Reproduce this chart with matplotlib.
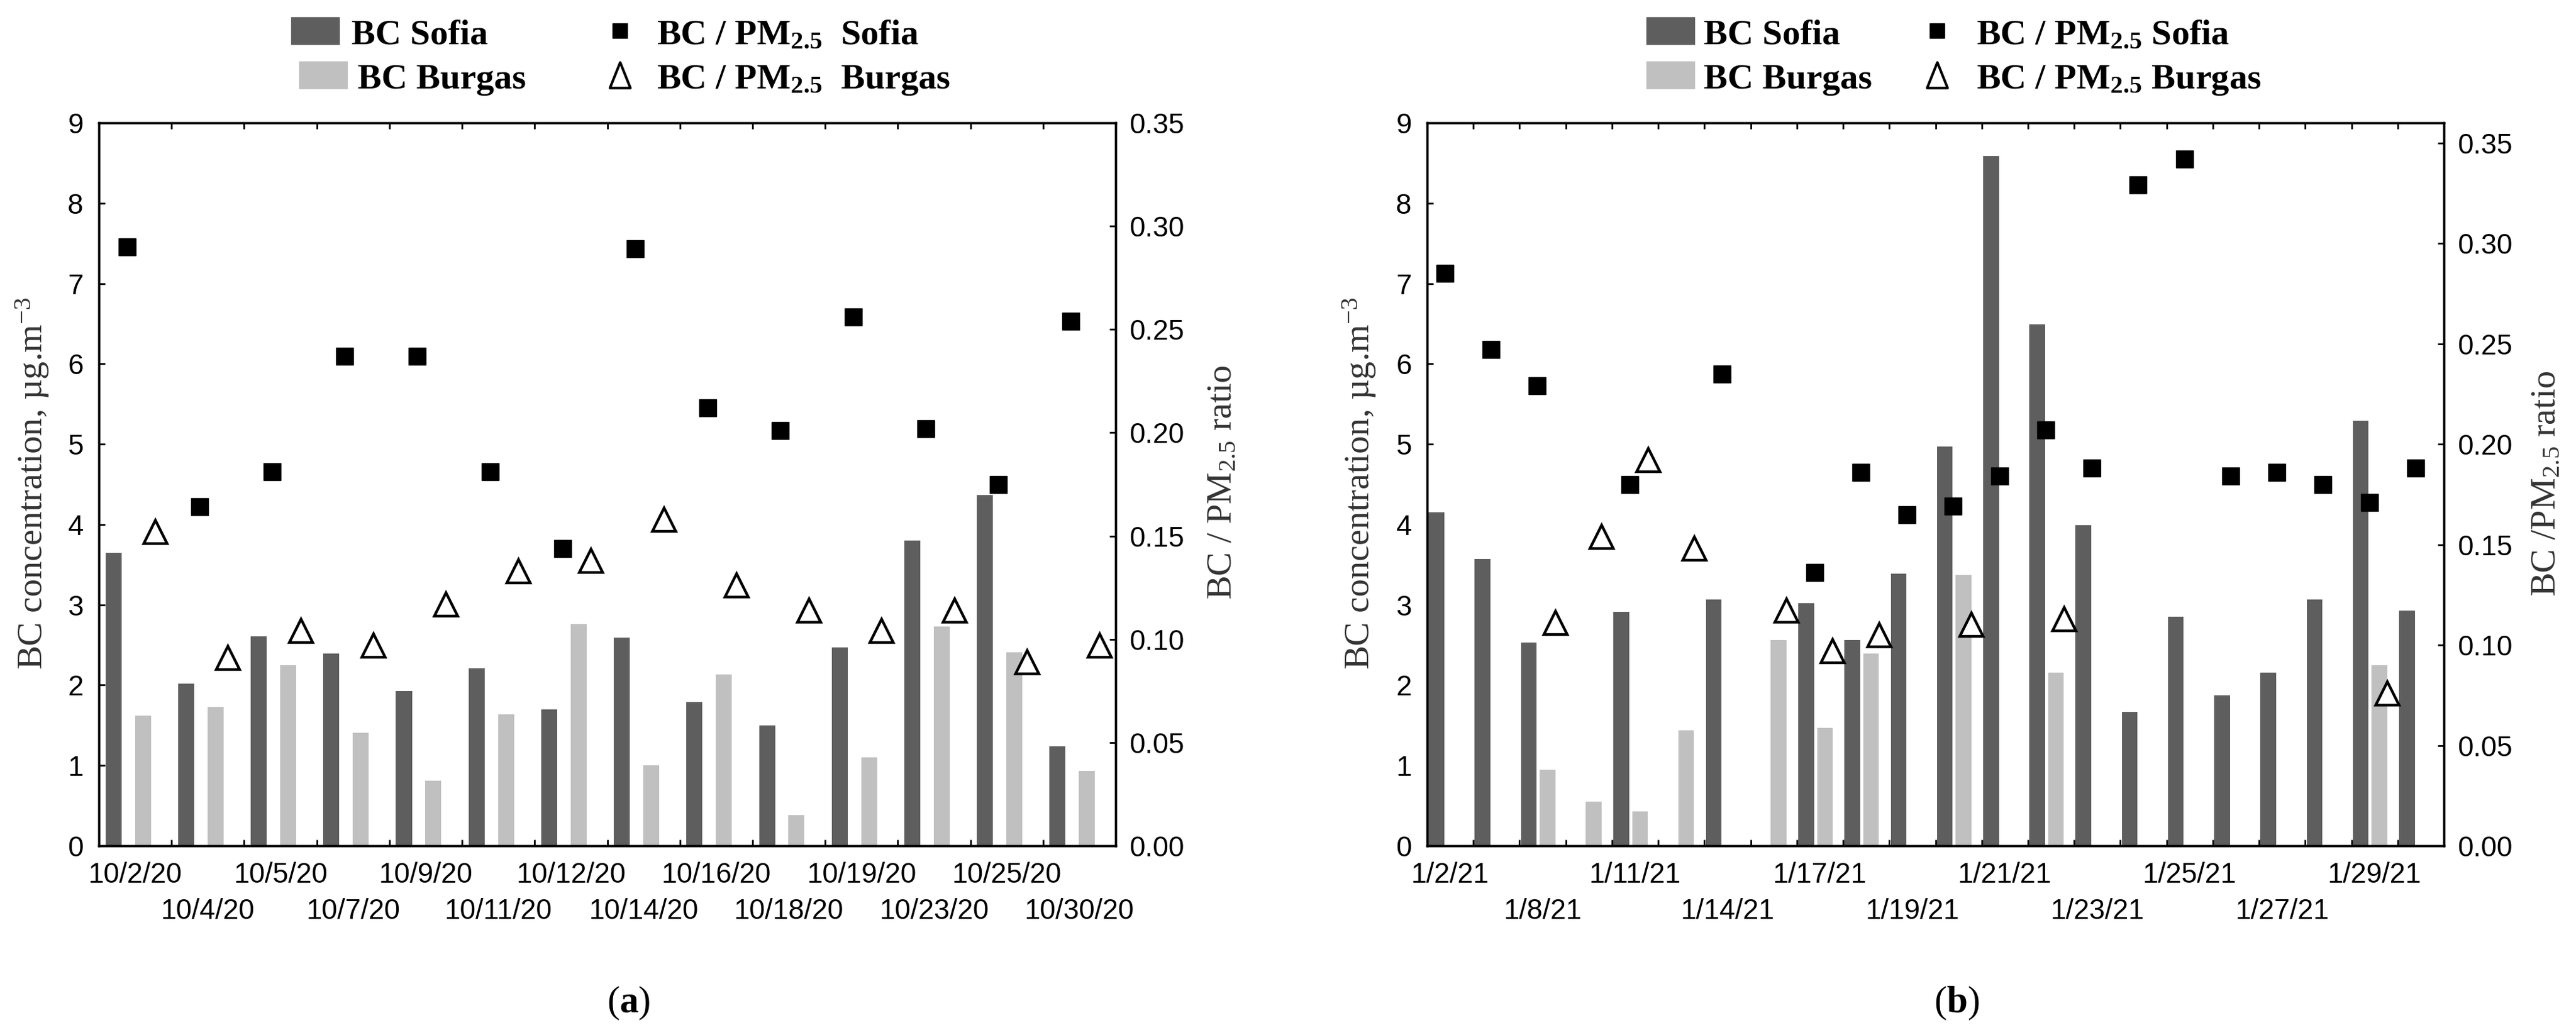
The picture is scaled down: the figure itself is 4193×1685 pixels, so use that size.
import matplotlib
matplotlib.use("Agg")
import matplotlib.pyplot as plt
import numpy as np
from matplotlib.lines import Line2D
from matplotlib.patches import Rectangle
from matplotlib.path import Path

nan = np.nan

# panel (a): October 2020
dates_a = ["10/2/20", "10/4/20", "10/5/20", "10/7/20", "10/9/20", "10/11/20", "10/12/20",
           "10/14/20", "10/16/20", "10/18/20", "10/19/20", "10/23/20", "10/25/20", "10/30/20"]
bc_sofia_a = [3.65, 2.02, 2.61, 2.39, 1.93, 2.21, 1.70, 2.59, 1.79, 1.50, 2.47, 3.80, 4.37, 1.24]
bc_burgas_a = [1.62, 1.73, 2.25, 1.41, 0.81, 1.64, 2.76, 1.00, 2.13, 0.38, 1.10, 2.73, 2.41, 0.93]
ratio_sofia_a = [0.290, 0.164, 0.181, 0.237, 0.237, 0.181, 0.144, 0.289, 0.212, 0.201, 0.256, 0.202, 0.175, 0.254]
ratio_burgas_a = [0.152, 0.091, 0.104, 0.097, 0.117, 0.133, 0.138, 0.158, 0.126, 0.114, 0.104, 0.114, 0.089, 0.097]

# panel (b): January 2021 (only every other date is labelled in the original)
dates_b = ["1/2/21", "", "1/8/21", "", "1/11/21", "", "1/14/21", "", "1/17/21", "", "1/19/21", "",
           "1/21/21", "", "1/23/21", "", "1/25/21", "", "1/27/21", "", "1/29/21", ""]
bc_sofia_b = [4.15, 3.57, 2.53, nan, 2.91, nan, 3.07, nan, 3.02, 2.56, 3.39, 4.97,
              8.59, 6.49, 3.99, 1.67, 2.85, 1.87, 2.16, 3.07, 5.29, 2.93]
bc_burgas_b = [nan, nan, 0.95, 0.55, 0.43, 1.44, nan, 2.56, 1.47, 2.39, nan, 3.37,
               nan, 2.16, nan, nan, nan, nan, nan, nan, 2.25, nan]
ratio_sofia_b = [0.285, 0.247, 0.229, nan, 0.180, nan, 0.235, nan, 0.136, 0.186, 0.165, 0.169,
                 0.184, 0.207, 0.188, 0.329, 0.342, 0.184, 0.186, 0.180, 0.171, 0.188]
ratio_burgas_b = [nan, nan, 0.111, 0.154, 0.192, 0.148, nan, 0.117, 0.097, 0.105, nan, 0.110,
                  nan, 0.113, nan, nan, nan, nan, nan, nan, 0.076, nan]

W, H = 4193, 1685
DARK = "#5e5e5e"
LIGHT = "#c0c0c0"
SERIF = "Liberation Serif"

plt.rcParams["font.family"] = "Liberation Sans"
plt.rcParams["mathtext.fontset"] = "custom"
plt.rcParams["mathtext.rm"] = "Liberation Serif"
plt.rcParams["mathtext.it"] = "Liberation Serif:italic"
plt.rcParams["mathtext.bf"] = "Liberation Serif:bold"

fig = plt.figure(figsize=(W / 100, H / 100), dpi=100)

# slightly tall open triangle used in the legend
TRI = Path([(-0.8, -1.0), (0.8, -1.0), (0.0, 1.0), (-0.8, -1.0)], closed=True)


def draw_panel(left, labels, sofia, burgas, r_sofia, r_burgas, bar_w, rmax):
    ax = fig.add_axes([left / W, 1 - 1377 / H, 1655 / W, 1177 / H])
    n = len(labels)
    x = np.arange(n)
    ax.bar(x - 0.30, sofia, bar_w, color=DARK, zorder=2)
    ax.bar(x + 0.105, burgas, bar_w, color=LIGHT, zorder=2)
    ax.set_xlim(-0.5, n - 0.5)
    ax.set_ylim(0, 9)
    ax.set_yticks(range(10))

    # date labels alternate between two rows
    named = [(i, lab) for i, lab in enumerate(labels) if lab]
    row1 = named[0::2]
    row2 = named[1::2]
    ax.set_xticks([i for i, _ in row1], [lab for _, lab in row1])
    ax.set_xticks(np.arange(0.5, n - 1), minor=True)
    ax.tick_params(axis="x", which="major", length=0, pad=19, labelsize=33)
    ax.tick_params(axis="x", which="minor", direction="in", length=7, width=2,
                   top=True, bottom=True)
    ax.tick_params(axis="y", direction="in", length=7, width=2, pad=18, labelsize=33)

    sec = ax.secondary_xaxis("bottom")
    sec.set_xticks([i for i, _ in row2], [lab for _, lab in row2])
    sec.tick_params(axis="x", length=0, pad=61, labelsize=33)
    for s in sec.spines.values():
        s.set_visible(False)

    ax2 = ax.twinx()
    ax2.plot(x - 0.115, r_sofia, ls="none", marker="s", ms=20, color="black", zorder=3)
    ax2.plot(x + 0.28, r_burgas, ls="none", marker="^", ms=27, mfc="white",
             mec="black", mew=3.2, zorder=3)
    ax2.set_ylim(0, rmax)
    ticks_r = np.arange(0, 0.351, 0.05)
    ax2.set_yticks(ticks_r, ["%.2f" % v for v in ticks_r])
    ax2.tick_params(axis="y", direction="in", length=7, width=2, pad=16, labelsize=33)
    for a in (ax, ax2):
        for s in a.spines.values():
            s.set_linewidth(2.5)
    return ax, ax2


draw_panel(161, dates_a, bc_sofia_a, bc_burgas_a, ratio_sofia_a, ratio_burgas_a, 0.22, 0.35)
draw_panel(2323, dates_b, bc_sofia_b, bc_burgas_b, ratio_sofia_b, ratio_burgas_b, 0.34, 0.36)

# axis titles
ylab_kw = dict(rotation=90, ha="center", va="center", family=SERIF, fontsize=42, color="#333333")
fig.text(53 / W, 1 - 787 / H, "BC concentration, µg.m$^{-3}$", **ylab_kw)
fig.text(1990 / W, 1 - 785 / H, "BC / PM$_{2.5}$ ratio", **ylab_kw)
fig.text(2213 / W, 1 - 787 / H, "BC concentration, µg.m$^{-3}$", **ylab_kw)
fig.text(4145 / W, 1 - 787 / H, "BC /PM$_{2.5}$ ratio", **ylab_kw)

# panel letters
fig.text(1023 / W, 1 - 1633 / H, r"($\mathbf{a}$)", ha="center", va="center", family=SERIF, fontsize=44)
fig.text(3185 / W, 1 - 1633 / H, r"($\mathbf{b}$)", ha="center", va="center", family=SERIF, fontsize=44)


# legends drawn above each panel
def legend_block(p1, p2, t1, t2, m_x, mt_x, sofia_lab, burgas_lab):
    rows = [(28, 72, DARK, p1, t1, "BC Sofia", "s", sofia_lab),
            (100, 144, LIGHT, p2, t2, "BC Burgas", TRI, burgas_lab)]
    for y0, y1, col, px0, tx, lab, mk, mlab in rows:
        fig.add_artist(Rectangle((px0 / W, 1 - y1 / H), 78 / W, (y1 - y0) / H,
                                 transform=fig.transFigure, color=col))
        fig.text(tx / W, 1 - y1 / H, lab, family=SERIF, fontsize=42, fontweight="bold", va="baseline")
        yc = 1 - (y0 + y1) / 2 / H
        if mk == "s":
            fig.add_artist(Line2D([m_x / W], [yc], transform=fig.transFigure, marker="s", ms=17,
                                  color="black", ls="none"))
        else:
            fig.add_artist(Line2D([m_x / W], [yc], transform=fig.transFigure, marker=mk, ms=30,
                                  mfc="white", mec="black", mew=3.0, ls="none"))
        fig.text(mt_x / W, 1 - y1 / H, mlab, family=SERIF, fontsize=42, fontweight="bold", va="baseline")


legend_block(474, 487, 572, 582, 1009, 1069,
             r"BC / PM$_{\mathbf{2.5}}$  Sofia", r"BC / PM$_{\mathbf{2.5}}$  Burgas")
legend_block(2680, 2680, 2773, 2773, 3153, 3217,
             r"BC / PM$_{\mathbf{2.5}}$ Sofia", r"BC / PM$_{\mathbf{2.5}}$ Burgas")

fig.savefig("out.png", dpi=100)
